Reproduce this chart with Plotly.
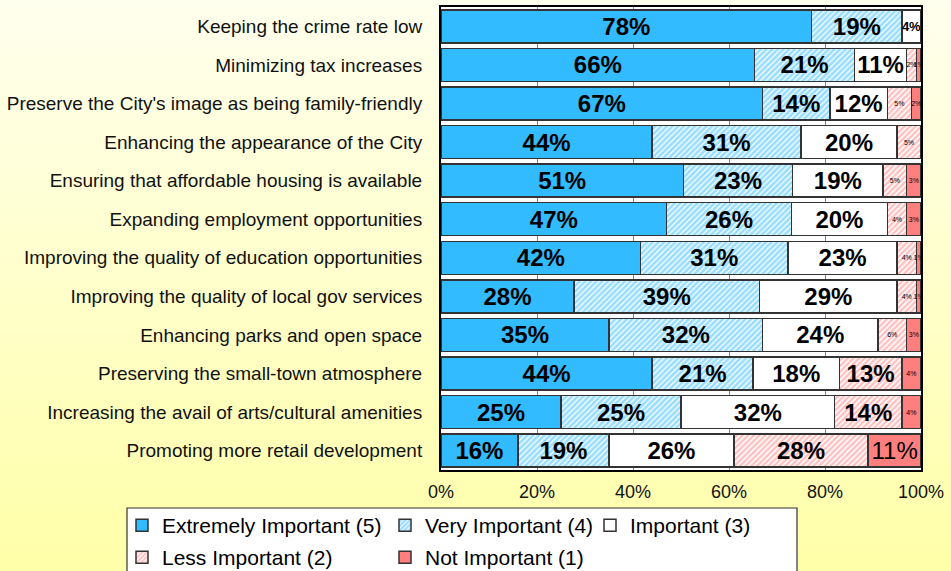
import plotly.graph_objects as go

categories = [
    "Keeping the crime rate low",
    "Minimizing tax increases",
    "Preserve the City's image as being family-friendly",
    "Enhancing the appearance of the City",
    "Ensuring that affordable housing is available",
    "Expanding employment opportunities",
    "Improving the quality of education opportunities",
    "Improving the quality of local gov services",
    "Enhancing parks and open space",
    "Preserving the small-town atmosphere",
    "Increasing the avail of arts/cultural amenities",
    "Promoting more retail development",
]
extremely_important = [78, 66, 67, 44, 51, 47, 42, 28, 35, 44, 25, 16]
very_important = [19, 21, 14, 31, 23, 26, 31, 39, 32, 21, 25, 19]
important = [4, 11, 12, 20, 19, 20, 23, 29, 24, 18, 32, 26]
less_important = [0, 2, 5, 5, 5, 4, 4, 4, 6, 13, 14, 28]
not_important = [0, 1, 2, 0, 3, 3, 1, 1, 3, 4, 4, 11]

series_names = ["Extremely Important (5)", "Very Important (4)", "Important (3)",
                "Less Important (2)", "Not Important (1)"]
x_tick_vals = [0, 20, 40, 60, 80, 100]
x_tick_text = ["0%", "20%", "40%", "60%", "80%", "100%"]

FONT = "Liberation Sans, Arial, sans-serif"
BLUE = "#33BBFF"
RED = "#FF7F7F"

series = [extremely_important, very_important, important, less_important, not_important]
styles = [
    dict(color=BLUE, pattern=None, legend="legend", bold=True, small=7),
    dict(color="white", pattern=dict(shape="/", fgcolor=BLUE, bgcolor="white", size=4, solidity=0.7),
         legend="legend", bold=True, small=7),
    dict(color="white", pattern=None, legend="legend3", bold=True, small=13),
    dict(color="white", pattern=dict(shape="/", fgcolor=RED, bgcolor="white", size=4, solidity=0.6),
         legend="legend2", bold=True, small=7),
    dict(color=RED, pattern=None, legend="legend2", bold=False, small=7),
]

fig = go.Figure()
for name, vals, st in zip(series_names, series, styles):
    texts, sizes = [], []
    for v in vals:
        if v == 0:
            texts.append("")
            sizes.append(7)
        elif v >= 10:
            texts.append(f"<b>{v}%</b>" if st["bold"] else f"{v}%")
            sizes.append(24)
        else:
            big = st["small"] > 10
            texts.append(f"<b>{v}%</b>" if big else f"{v}%")
            sizes.append(st["small"])
    marker = dict(color=st["color"], line=dict(color="#333333", width=1.5))
    if st["pattern"]:
        marker["pattern"] = st["pattern"]
    fig.add_trace(go.Bar(
        y=categories, x=vals, name=name, orientation="h",
        marker=marker, text=texts, textposition="inside",
        insidetextanchor="middle", constraintext="none", textangle=0,
        textfont=dict(family=FONT, size=sizes, color="black"),
        legend=st["legend"], hoverinfo="skip",
    ))

# plot area geometry (px)
L, R, T, B = 441, 30, 7, 101
W, H = 951, 571
pw, ph = W - L - R, H - T - B

def px_to_paper_x(px):
    return (px - L) / pw

def px_to_paper_y(py):
    return (H - B - py) / ph

shapes = []
# background gradient
n = 60
top_c = (255, 255, 238)
bot_c = (255, 255, 168)
for i in range(n):
    y0 = H * i / n
    y1 = H * (i + 1) / n + 1
    f = (i + 0.5) / n
    c = tuple(round(top_c[k] + (bot_c[k] - top_c[k]) * f) for k in range(3))
    shapes.append(dict(type="rect", xref="paper", yref="paper", layer="below",
                       x0=px_to_paper_x(-2), x1=px_to_paper_x(W + 2),
                       y0=px_to_paper_y(y1), y1=px_to_paper_y(y0),
                       fillcolor=f"rgb{c}", line=dict(width=0)))
# white plot area
shapes.append(dict(type="rect", xref="paper", yref="paper", layer="below",
                   x0=0, x1=1, y0=0, y1=1, fillcolor="white", line=dict(width=0)))
# legend box
shapes.append(dict(type="rect", xref="paper", yref="paper", layer="below",
                   x0=px_to_paper_x(127), x1=px_to_paper_x(797),
                   y0=px_to_paper_y(580), y1=px_to_paper_y(508),
                   fillcolor="white", line=dict(color="#333333", width=1.2)))

legend_common = dict(orientation="h", xref="paper", yref="paper",
                     xanchor="left", yanchor="top", bgcolor="rgba(0,0,0,0)",
                     borderwidth=0, itemwidth=30, entrywidth=218, entrywidthmode="pixels",
                     font=dict(family=FONT, size=21, color="black"),
                     traceorder="normal", itemclick=False, itemdoubleclick=False)

fig.update_layout(
    width=W, height=H,
    margin=dict(l=L, r=R, t=T, b=B, pad=0, autoexpand=False),
    barmode="stack", barnorm="percent", bargap=0.145,
    paper_bgcolor="#FFFFEE", plot_bgcolor="white",
    font=dict(family=FONT, color="#111111"),
    shapes=shapes,
    showlegend=True,
    legend=dict(x=px_to_paper_x(122), y=px_to_paper_y(505), **legend_common),
    legend2=dict(x=px_to_paper_x(122), y=px_to_paper_y(537), **legend_common),
    legend3=dict(x=px_to_paper_x(590), y=px_to_paper_y(505), **legend_common),
    xaxis=dict(range=[0, 100], tickvals=x_tick_vals, ticktext=x_tick_text,
               showgrid=True, gridcolor="#888888", gridwidth=1,
               showline=True, linecolor="black", linewidth=2, mirror=True,
               ticks="", ticklabelstandoff=4, zeroline=False, automargin=False,
               tickfont=dict(family=FONT, size=18, color="#111111")),
    yaxis=dict(autorange="reversed", showline=True, linecolor="black", linewidth=2,
               mirror=True, ticks="", ticklabelstandoff=13, showgrid=False, automargin=False,
               tickfont=dict(family=FONT, size=19, color="#111111")),
)

fig.write_html("out.html", config={"displayModeBar": False, "staticPlot": True},
               post_script="document.body.style.margin='0';document.body.style.overflow='hidden';")
